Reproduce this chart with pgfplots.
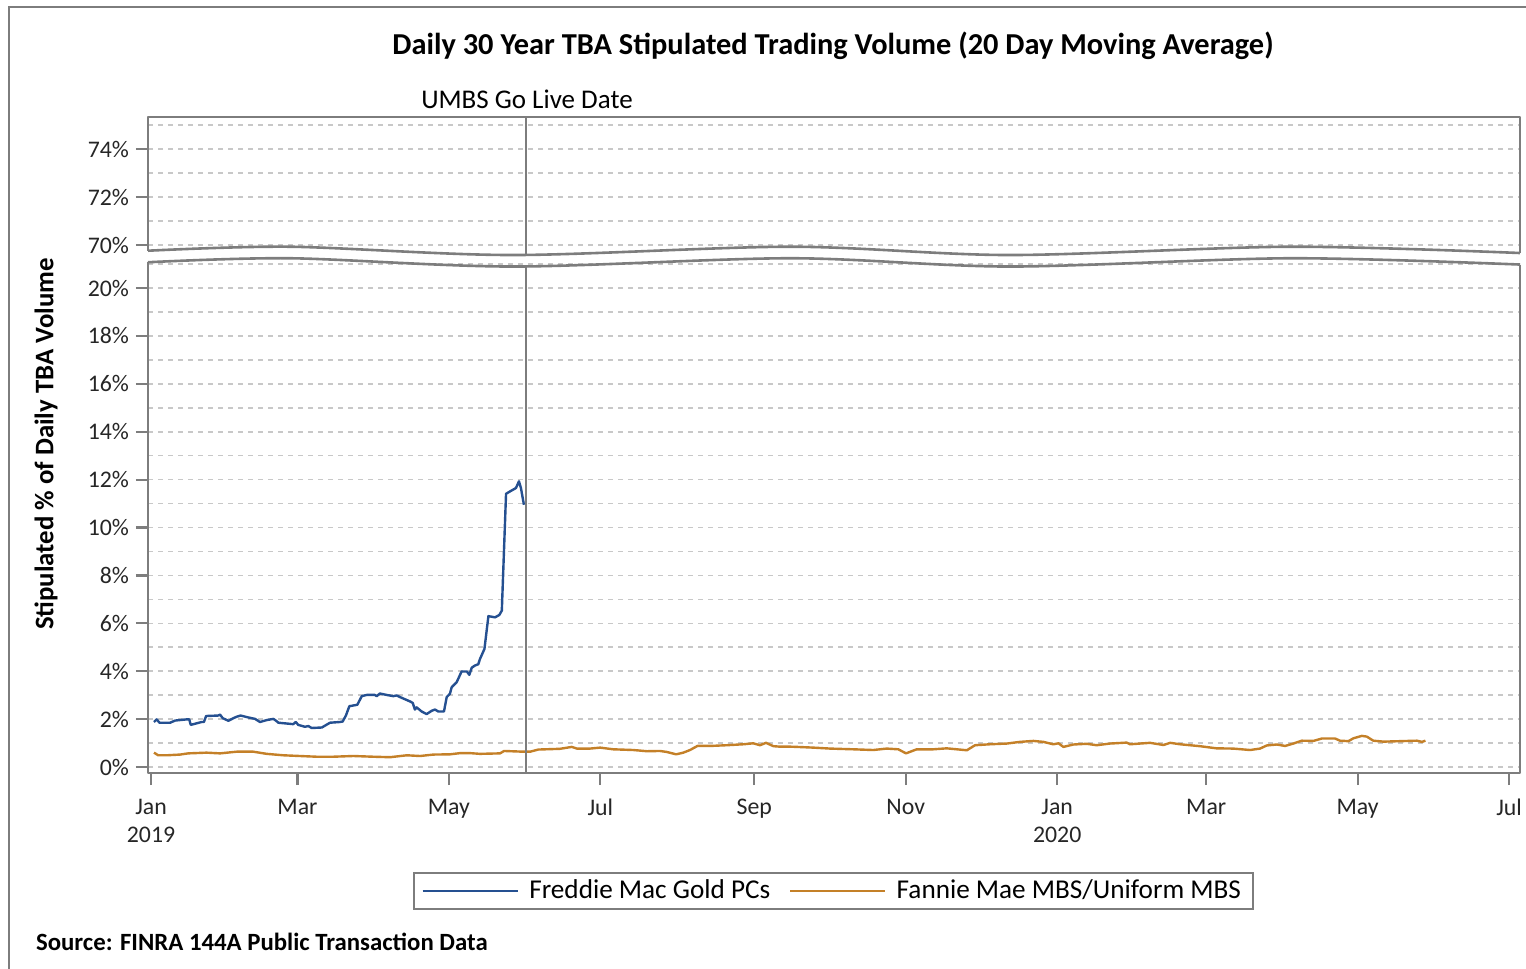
\documentclass[border=0pt]{standalone}
\usepackage{pgfplots}
\usepackage{pgfplotstable}
\pgfplotsset{compat=1.18}
\usepackage{fontspec}
\setmainfont{Carlito}
\definecolor{fmblue}{RGB}{37,80,145}
\definecolor{fnorange}{RGB}{196,128,40}
\definecolor{framegray}{RGB}{125,125,125}
\definecolor{gridgray}{RGB}{200,200,200}

% x = days since 1 Jan 2019
\pgfplotstableread{
x y
1.2 1.88
2.3 1.99
3.4 1.85
7.7 1.85
9.7 1.94
14.4 1.99
15.4 1.99
16.0 1.76
20.4 1.88
21.3 1.88
22.2 2.13
27.1 2.15
27.8 2.19
28.9 2.04
31.2 1.93
33.2 2.04
34.5 2.10
36.1 2.15
39.2 2.07
41.9 2.01
43.9 1.88
46.6 1.96
49.3 2.01
50.4 1.93
51.3 1.85
57.3 1.79
58.3 1.88
59.3 1.76
62.0 1.68
63.4 1.71
64.7 1.63
68.8 1.65
72.1 1.85
76.1 1.88
77.2 1.90
78.5 2.15
79.9 2.54
81.5 2.57
83.1 2.60
84.9 2.96
86.9 3.01
90.2 3.01
90.9 2.96
92.2 3.07
94.9 3.01
97.6 2.96
99.0 2.99
100.3 2.92
104.3 2.74
105.4 2.68
106.3 2.40
107.0 2.49
109.0 2.32
111.0 2.21
113.1 2.35
114.4 2.40
115.7 2.32
118.0 2.32
119.1 2.92
120.4 3.06
121.1 3.33
123.1 3.54
125.1 3.99
127.2 3.99
128.2 3.85
129.2 4.15
130.5 4.24
131.8 4.29
132.5 4.51
134.3 4.93
135.9 6.30
138.6 6.25
140.3 6.35
141.3 6.53
143.0 11.41
145.3 11.55
147.0 11.65
148.2 11.93
149.0 11.65
150.2 10.95
}\freddie

\pgfplotstableread{
x y
1.2 0.60
2.9 0.49
6.3 0.49
11.7 0.52
15.0 0.57
22.4 0.60
27.8 0.57
34.5 0.64
41.2 0.64
46.6 0.55
53.3 0.49
60.0 0.46
66.7 0.43
73.4 0.43
81.5 0.46
89.5 0.43
96.3 0.41
103.0 0.49
108.4 0.46
113.7 0.52
120.4 0.53
124.5 0.58
128.5 0.58
132.5 0.55
140.6 0.57
142.2 0.67
150.0 0.64
152.7 0.64
156.0 0.73
164.7 0.76
169.5 0.84
171.5 0.77
176.8 0.77
180.9 0.81
186.2 0.74
194.3 0.71
199.7 0.66
205.0 0.67
207.7 0.63
211.5 0.53
214.4 0.60
217.1 0.71
220.1 0.88
225.2 0.88
231.9 0.91
238.6 0.95
242.6 0.99
245.3 0.91
247.7 1.01
250.7 0.87
253.4 0.85
257.4 0.85
260.1 0.84
266.8 0.81
273.5 0.77
282.9 0.74
290.9 0.71
296.3 0.77
301.0 0.74
304.1 0.57
308.4 0.74
315.1 0.74
320.5 0.78
328.6 0.70
331.9 0.91
337.9 0.95
344.7 0.98
350.0 1.05
355.4 1.09
359.4 1.05
363.4 0.95
365.5 0.99
367.5 0.84
371.5 0.94
376.9 0.97
380.9 0.91
386.3 0.98
393.0 1.02
394.3 0.95
402.4 1.01
407.8 0.92
410.5 1.01
414.5 0.95
422.5 0.87
429.2 0.78
435.9 0.77
442.7 0.71
446.7 0.77
449.4 0.90
453.4 0.94
456.8 0.88
460.1 0.98
463.5 1.10
468.2 1.09
471.6 1.19
476.9 1.19
478.9 1.10
482.3 1.08
484.3 1.20
487.7 1.30
489.7 1.27
492.3 1.10
496.4 1.06
503.2 1.08
509.9 1.10
511.9 1.05
513.3 1.10
}\fannie

\pgfplotsset{
  brk/.style={
    scale only axis, width=686pt, xmin=-1.21, xmax=551.4,
    axis line style={draw=none}, clip=false,
    tick align=outside, tick pos=left,
    major tick length=6pt, minor tick length=0pt,
    tick style={draw=framegray, line width=1.1pt},
    ymajorgrids, yminorgrids,
    major grid style={gridgray, line width=0.8pt, dash pattern=on 2.5pt off 2.5pt},
    minor grid style={gridgray, line width=0.8pt, dash pattern=on 2.5pt off 2.5pt},
    tick label style={font=\fontsize{11.9}{14}\selectfont, text=black!85},
  }
}

\begin{document}
\begin{tikzpicture}
\path[use as bounding box] (0pt,0pt) rectangle (763pt,-484.5pt);
\draw[framegray, line width=1.2pt] (4.5pt,-490pt) -- (4.5pt,-3.5pt) -- (770pt,-3.5pt);

\node[font=\bfseries\fontsize{15.2}{18}\selectfont] at (416.5pt,-23pt) {Daily 30 Year TBA Stipulated Trading Volume (20 Day Moving Average)};
\node[font=\fontsize{13.5}{16}\selectfont] at (263.5pt,-49.5pt) {UMBS Go Live Date};
\node[font=\bfseries\fontsize{13.4}{16}\selectfont, rotate=90] at (23pt,-222pt) {Stipulated \% of Daily TBA Volume};
\node[font=\bfseries\fontsize{12.4}{15}\selectfont, anchor=west] at (14.5pt,-471pt) {Source: FINRA 144A Public Transaction Data};

% top panel
\begin{axis}[brk, at={(74pt,-127.55pt)}, anchor=south west, height=69.05pt,
  ymin=69.58, ymax=75.333,
  ytick={70,72,74}, yticklabels={70\%,72\%,74\%}, minor ytick={71,73,75},
  xtick=\empty]
  \draw[framegray, line width=1.3pt, line join=round]
    (axis cs:-1.21,69.7625) -- (axis cs:-1.21,75.333) -- (axis cs:551.4,75.333) -- (axis cs:551.4,69.667);
  \draw[framegray, line width=1.3pt] plot[smooth] coordinates {
    (-1.21,69.7625) (56,69.929) (145.8,69.583) (257.4,69.929) (346,69.583) (458.8,69.929) (551.4,69.667)};
  \draw[framegray, line width=1.1pt] (axis cs:151,75.333) -- (axis cs:151,69.585);
\end{axis}

% bottom panel
\begin{axis}[brk, at={(74pt,-386.5pt)}, anchor=south west, height=257.45pt,
  ymin=-0.25, ymax=21.25,
  ytick={0,2,...,20}, yticklabels={0\%,2\%,4\%,6\%,8\%,10\%,12\%,14\%,16\%,18\%,20\%},
  minor ytick={1,3,...,21},
  xtick={0,59,120,181,243,304,365,425,486,547},
  xticklabels={{Jan\\2019},Mar,May,Jul,Sep,Nov,{Jan\\2020},Mar,May,Jul},
  xticklabel style={align=center, yshift=-3.5pt},
  legend columns=2,
  legend cell align=left,
  legend image code/.code={\draw[#1, line width=0.7pt] (0pt,0pt) -- (47.5pt,0pt);},
  legend style={at={(0.4996,-0.229)}, anchor=center, draw=framegray, line width=1pt,
    font=\fontsize{13.6}{16}\selectfont, inner xsep=4pt, inner ysep=1.5pt,
    /tikz/every odd column/.append style={column sep=3.5pt},
    /tikz/every even column/.append style={column sep=7.5pt}},
  ]
  \addplot[fmblue, line width=1.2pt, line join=round] table[x=x,y=y] {\freddie};
  \addlegendentry{Freddie Mac Gold PCs}
  \addplot[fnorange, line width=1.2pt, line join=round] table[x=x,y=y] {\fannie};
  \addlegendentry{Fannie Mae MBS/Uniform MBS}
  \draw[framegray, line width=1.3pt, line join=round]
    (axis cs:-1.21,21.077) -- (axis cs:-1.21,-0.25) -- (axis cs:551.4,-0.25) -- (axis cs:551.4,20.981);
  \draw[framegray, line width=1.3pt] plot[smooth] coordinates {
    (-1.21,21.077) (56,21.244) (145.8,20.898) (257.4,21.244) (346,20.898) (458.8,21.244) (551.4,20.981)};
  \draw[framegray, line width=1.1pt] (axis cs:151,-0.25) -- (axis cs:151,20.90);
\end{axis}
\end{tikzpicture}
\end{document}
